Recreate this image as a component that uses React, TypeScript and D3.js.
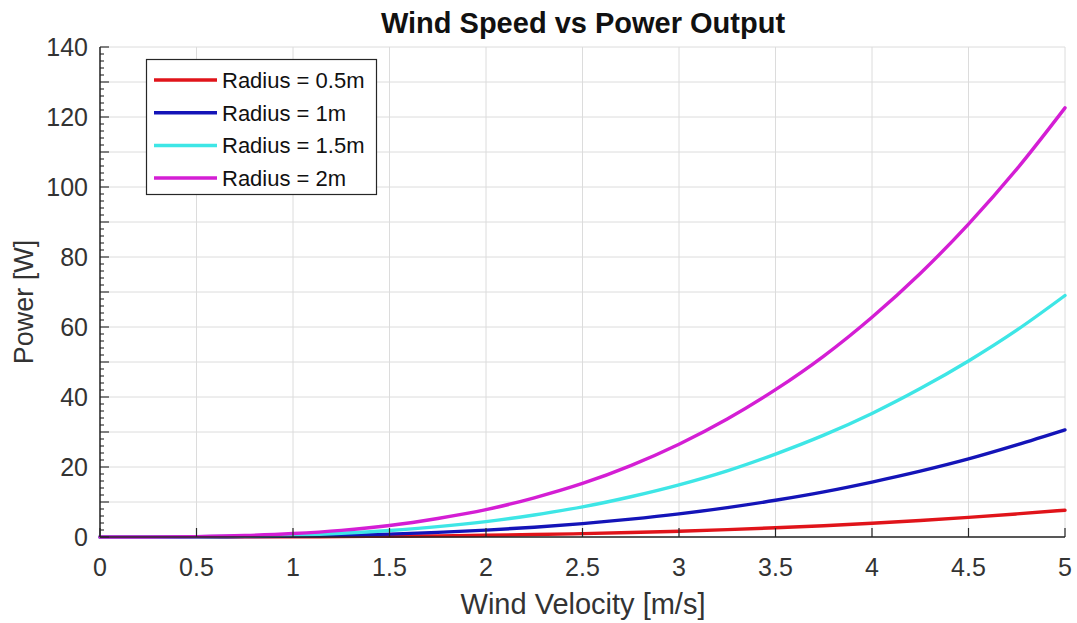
import React, { useEffect, useRef } from "react";
import * as d3 from "d3";

// Wind velocity samples (m/s)
const velocity = [0, 0.25, 0.5, 0.75, 1, 1.25, 1.5, 1.75, 2, 2.25, 2.5, 2.75, 3, 3.25, 3.5, 3.75, 4, 4.25, 4.5, 4.75, 5];

// Power output (W) for each rotor radius
const powerR05 = [0, 0, 0.01, 0.03, 0.06, 0.12, 0.21, 0.33, 0.49, 0.7, 0.96, 1.27, 1.66, 2.1, 2.63, 3.23, 3.92, 4.7, 5.6, 6.6, 7.66];
const powerR10 = [0, 0.005, 0.03, 0.1, 0.25, 0.48, 0.83, 1.31, 1.96, 2.8, 3.83, 5.1, 6.6, 8.4, 10.5, 12.9, 15.7, 18.8, 22.3, 26.3, 30.6];
const powerR15 = [0, 0.01, 0.07, 0.23, 0.55, 1.07, 1.86, 2.95, 4.4, 6.3, 8.6, 11.5, 14.9, 18.9, 23.7, 29.1, 35.3, 42.4, 50.3, 59.1, 69.0];
const powerR20 = [0, 0.02, 0.12, 0.41, 0.98, 1.9, 3.3, 5.3, 7.8, 11.2, 15.3, 20.4, 26.5, 33.7, 42.1, 51.7, 62.8, 75.3, 89.4, 105.1, 122.6];

const seriesNames = ["Radius = 0.5m", "Radius = 1m", "Radius = 1.5m", "Radius = 2m"];
const seriesValues = [powerR05, powerR10, powerR15, powerR20];
const seriesColors = ["#e0141a", "#1414b8", "#3ee6e6", "#d41ed4"];

const xTicks = [0, 0.5, 1, 1.5, 2, 2.5, 3, 3.5, 4, 4.5, 5];
const yTicks = [0, 20, 40, 60, 80, 100, 120, 140];

const W = 1077;
const H = 623;
const FONT = "'Liberation Sans', Arial, Helvetica, sans-serif";

export default function App() {
  const ref = useRef<SVGSVGElement | null>(null);

  useEffect(() => {
    const svg = d3.select(ref.current);
    svg.selectAll("*").remove();

    const x = d3.scaleLinear().domain([0, 5]).range([100, 1065]);
    const y = d3.scaleLinear().domain([0, 140]).range([537, 47]);

    const g = svg.append("g");

    // grid: every 0.5 on x, every 10 on y
    const yGrid = d3.range(0, 141, 10);
    g.append("g")
      .selectAll("line")
      .data(xTicks)
      .join("line")
      .attr("x1", (d) => x(d))
      .attr("x2", (d) => x(d))
      .attr("y1", y(0))
      .attr("y2", y(140))
      .attr("stroke", "#dcdcdc")
      .attr("stroke-width", 1);
    g.append("g")
      .selectAll("line")
      .data(yGrid)
      .join("line")
      .attr("x1", x(0))
      .attr("x2", x(5))
      .attr("y1", (d) => y(d))
      .attr("y2", (d) => y(d))
      .attr("stroke", "#dcdcdc")
      .attr("stroke-width", 1);

    // curves
    const line = d3
      .line<number>()
      .x((_, i) => x(velocity[i]))
      .y((d) => y(d))
      .curve(d3.curveMonotoneX);

    seriesValues.forEach((vals, i) => {
      g.append("path")
        .attr("d", line(vals) as string)
        .attr("fill", "none")
        .attr("stroke", seriesColors[i])
        .attr("stroke-width", 3.4)
        .attr("stroke-linecap", "round");
    });

    // axes lines
    const axisColor = "#262626";
    g.append("line")
      .attr("x1", x(0))
      .attr("x2", x(0))
      .attr("y1", y(0))
      .attr("y2", y(140))
      .attr("stroke", axisColor)
      .attr("stroke-width", 1.5);
    g.append("line")
      .attr("x1", x(0))
      .attr("x2", x(5))
      .attr("y1", y(0))
      .attr("y2", y(0))
      .attr("stroke", axisColor)
      .attr("stroke-width", 1.5);

    // x ticks (inward)
    g.append("g")
      .selectAll("line")
      .data(xTicks)
      .join("line")
      .attr("x1", (d) => x(d))
      .attr("x2", (d) => x(d))
      .attr("y1", y(0))
      .attr("y2", y(0) - 9)
      .attr("stroke", axisColor)
      .attr("stroke-width", 1.2);

    // y ticks: minor every 2, medium every 10
    const yMinor = d3.range(0, 141, 2);
    g.append("g")
      .selectAll("line")
      .data(yMinor)
      .join("line")
      .attr("x1", x(0))
      .attr("x2", (d) => x(0) + (d % 10 === 0 ? 9 : 4))
      .attr("y1", (d) => y(d))
      .attr("y2", (d) => y(d))
      .attr("stroke", axisColor)
      .attr("stroke-width", 1.1);

    // tick labels
    g.append("g")
      .selectAll("text")
      .data(xTicks)
      .join("text")
      .attr("x", (d) => x(d))
      .attr("y", 576)
      .attr("text-anchor", "middle")
      .attr("font-family", FONT)
      .attr("font-size", 25)
      .attr("fill", "#333")
      .text((d) => String(d));
    g.append("g")
      .selectAll("text")
      .data(yTicks)
      .join("text")
      .attr("x", 88)
      .attr("y", (d) => y(d) + 9)
      .attr("text-anchor", "end")
      .attr("font-family", FONT)
      .attr("font-size", 25)
      .attr("fill", "#333")
      .text((d) => String(d));

    // axis titles
    g.append("text")
      .attr("x", 583)
      .attr("y", 614)
      .attr("text-anchor", "middle")
      .attr("font-family", FONT)
      .attr("font-size", 29)
      .attr("fill", "#333")
      .text("Wind Velocity [m/s]");
    g.append("text")
      .attr("transform", "translate(33,302) rotate(-90)")
      .attr("text-anchor", "middle")
      .attr("font-family", FONT)
      .attr("font-size", 27)
      .attr("fill", "#333")
      .text("Power [W]");

    // title
    g.append("text")
      .attr("x", 583)
      .attr("y", 33)
      .attr("text-anchor", "middle")
      .attr("font-family", FONT)
      .attr("font-size", 29)
      .attr("font-weight", "bold")
      .attr("fill", "#111")
      .text("Wind Speed vs Power Output");

    // legend
    const lg = g.append("g");
    lg.append("rect")
      .attr("x", 146.5)
      .attr("y", 59.5)
      .attr("width", 230)
      .attr("height", 135)
      .attr("fill", "#fff")
      .attr("stroke", "#262626")
      .attr("stroke-width", 1.2);
    seriesNames.forEach((name, i) => {
      const cy = 80 + i * 32.7;
      lg.append("line")
        .attr("x1", 154)
        .attr("x2", 217)
        .attr("y1", cy)
        .attr("y2", cy)
        .attr("stroke", seriesColors[i])
        .attr("stroke-width", 3.5);
      lg.append("text")
        .attr("x", 222)
        .attr("y", cy + 8)
        .attr("font-family", FONT)
        .attr("font-size", 22)
        .attr("fill", "#111")
        .text(name);
    });
  }, []);

  return (
    <svg
      ref={ref}
      width={W}
      height={H}
      style={{ position: "absolute", left: 0, top: 0, background: "#fff", display: "block" }}
    />
  );
}
